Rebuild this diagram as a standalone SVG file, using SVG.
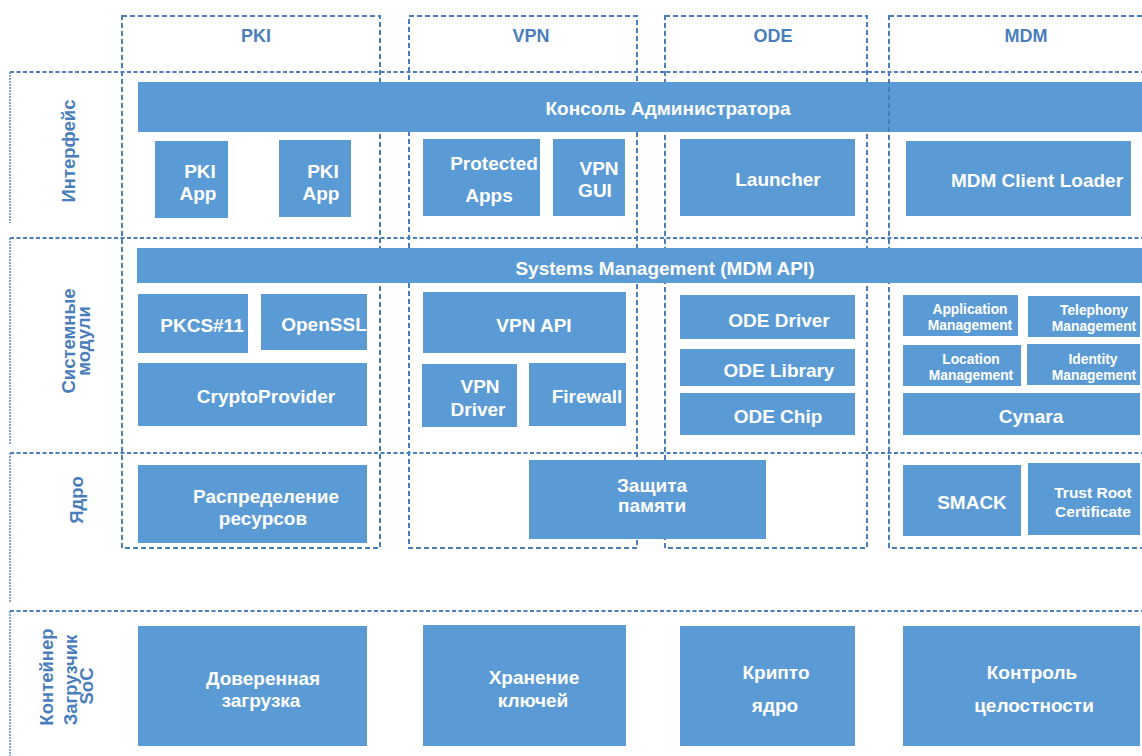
<svg xmlns="http://www.w3.org/2000/svg" width="1142" height="756" viewBox="0 0 1142 756">
  <style>
    .box { fill: #5B9BD5; }
    .t { font-family: "Liberation Sans", Arial, sans-serif; font-weight: bold; fill: #FFFFFF; text-anchor: middle; font-size: 19px; }
    .ts { font-size: 13.8px; }
    .tm { font-size: 15.5px; }
    .hdr { font-family: "Liberation Sans", Arial, sans-serif; font-weight: bold; fill: #4A7EBB; text-anchor: middle; font-size: 18px; }
    .vl { font-size: 18.5px; }
    .col { fill: none; stroke: #4A7EBB; stroke-width: 2; stroke-dasharray: 5 3; }
    .row { fill: none; stroke: #4A7EBB; stroke-width: 2; stroke-dasharray: 4 2.5; }
    .rowside { fill: none; stroke: #5A8AC6; stroke-width: 1.5; stroke-dasharray: 2 1; }
  </style>
  <rect width="1142" height="756" fill="#FFFFFF"/>

  <!-- layer rows: top edge and left edge -->
  <g id="rows">
    <g id="row-interface">
      <path class="row" d="M10,72 H1142"/>
      <path class="rowside" d="M10,72 V223"/>
      <text class="hdr vl" transform="translate(75,151) rotate(-90)">Интерфейс</text>
    </g>
    <g id="row-modules">
      <path class="row" d="M10,238 H1142"/>
      <path class="rowside" d="M10,238 V445"/>
      <text class="hdr vl" transform="translate(75,341) rotate(-90)">Системные</text>
      <text class="hdr vl" transform="translate(90,341) rotate(-90)">модули</text>
    </g>
    <g id="row-kernel">
      <path class="row" d="M10,453 H1142"/>
      <path class="rowside" d="M10,453 V603"/>
      <text class="hdr vl" transform="translate(83,500) rotate(-90)">Ядро</text>
    </g>
    <g id="row-container">
      <path class="row" d="M10,611 H1142"/>
      <path class="rowside" d="M10,611 V756"/>
      <text class="hdr vl" transform="translate(53,677) rotate(-90)">Контейнер</text>
      <text class="hdr vl" transform="translate(77,680) rotate(-90)">Загрузчик</text>
      <text class="hdr vl" transform="translate(93,686) rotate(-90)">SoC</text>
    </g>
  </g>

  <!-- product columns -->
  <g id="columns">
    <g id="col-pki">
      <rect class="col" x="122" y="16" width="258" height="532"/>
      <text class="hdr" x="256" y="42">PKI</text>
    </g>
    <g id="col-vpn">
      <rect class="col" x="409" y="16" width="228" height="532"/>
      <text class="hdr" x="531" y="42">VPN</text>
    </g>
    <g id="col-ode">
      <rect class="col" x="665" y="16" width="202" height="532"/>
      <text class="hdr" x="773" y="42">ODE</text>
    </g>
  </g>

  <g id="admin-console">
    <rect class="box" x="138" y="82" width="1004" height="50"/>
    <text class="t" x="668" y="115">Консоль Администратора</text>
  </g>

  <g id="col-mdm">
    <rect class="col" x="889" y="16" width="270" height="532"/>
    <text class="hdr" x="1026" y="42">MDM</text>
  </g>

  <!-- interface layer -->
  <g id="pki-app-1">
    <rect class="box" x="155" y="141" width="73" height="77"/>
    <text class="t" x="200" y="178">PKI</text>
    <text class="t" x="198" y="200">App</text>
  </g>
  <g id="pki-app-2">
    <rect class="box" x="279" y="140" width="72" height="77"/>
    <text class="t" x="323" y="178">PKI</text>
    <text class="t" x="321" y="200">App</text>
  </g>
  <g id="protected-apps">
    <rect class="box" x="423" y="139" width="117" height="77"/>
    <text class="t" x="494" y="170">Protected</text>
    <text class="t" x="489" y="202">Apps</text>
  </g>
  <g id="vpn-gui">
    <rect class="box" x="553" y="139" width="72" height="77"/>
    <text class="t" x="599" y="175">VPN</text>
    <text class="t" x="595" y="197">GUI</text>
  </g>
  <g id="launcher">
    <rect class="box" x="680" y="139" width="175" height="77"/>
    <text class="t" x="778" y="186">Launcher</text>
  </g>
  <g id="mdm-client-loader">
    <rect class="box" x="906" y="141" width="225" height="75"/>
    <text class="t" x="1037" y="187">MDM Client Loader</text>
  </g>

  <!-- system modules layer -->
  <g id="systems-management">
    <rect class="box" x="137" y="248" width="1005" height="35"/>
    <text class="t" x="665" y="275">Systems Management (MDM API)</text>
  </g>
  <g id="pkcs11">
    <rect class="box" x="138" y="294" width="110" height="59"/>
    <text class="t" x="202" y="332">PKCS#11</text>
  </g>
  <g id="openssl">
    <rect class="box" x="261" y="294" width="106" height="56"/>
    <text class="t" x="324" y="331">OpenSSL</text>
  </g>
  <g id="cryptoprovider">
    <rect class="box" x="138" y="363" width="229" height="63"/>
    <text class="t" x="266" y="403">CryptoProvider</text>
  </g>
  <g id="vpn-api">
    <rect class="box" x="423" y="292" width="203" height="61"/>
    <text class="t" x="534" y="332">VPN API</text>
  </g>
  <g id="vpn-driver">
    <rect class="box" x="422" y="364" width="95" height="63"/>
    <text class="t" x="480" y="393">VPN</text>
    <text class="t" x="478" y="416">Driver</text>
  </g>
  <g id="firewall">
    <rect class="box" x="529" y="363" width="97" height="63"/>
    <text class="t" x="587" y="403">Firewall</text>
  </g>
  <g id="ode-driver">
    <rect class="box" x="680" y="295" width="175" height="44"/>
    <text class="t" x="779" y="327">ODE Driver</text>
  </g>
  <g id="ode-library">
    <rect class="box" x="680" y="349" width="175" height="37"/>
    <text class="t" x="779" y="377">ODE Library</text>
  </g>
  <g id="ode-chip">
    <rect class="box" x="680" y="393" width="175" height="42"/>
    <text class="t" x="778" y="423">ODE Chip</text>
  </g>
  <g id="application-management">
    <rect class="box" x="903" y="295" width="115" height="41"/>
    <text class="t ts" x="970" y="314">Application</text>
    <text class="t ts" x="970" y="330">Management</text>
  </g>
  <g id="telephony-management">
    <rect class="box" x="1028" y="296" width="112" height="41"/>
    <text class="t ts" x="1094" y="315">Telephony</text>
    <text class="t ts" x="1094" y="331">Management</text>
  </g>
  <g id="location-management">
    <rect class="box" x="903" y="345" width="118" height="41"/>
    <text class="t ts" x="971" y="364">Location</text>
    <text class="t ts" x="971" y="380">Management</text>
  </g>
  <g id="identity-management">
    <rect class="box" x="1027" y="344" width="113" height="41"/>
    <text class="t ts" x="1093" y="364">Identity</text>
    <text class="t ts" x="1094" y="380">Management</text>
  </g>
  <g id="cynara">
    <rect class="box" x="903" y="393" width="237" height="42"/>
    <text class="t" x="1031" y="423">Cynara</text>
  </g>

  <!-- kernel layer -->
  <g id="resource-allocation">
    <rect class="box" x="138" y="465" width="229" height="78"/>
    <text class="t" x="266" y="503">Распределение</text>
    <text class="t" x="263" y="525">ресурсов</text>
  </g>
  <g id="memory-protection">
    <rect class="box" x="529" y="460" width="237" height="79"/>
    <text class="t" x="652" y="492">Защита</text>
    <text class="t" x="652" y="512">памяти</text>
  </g>
  <g id="smack">
    <rect class="box" x="903" y="465" width="118" height="71"/>
    <text class="t" x="972" y="509">SMACK</text>
  </g>
  <g id="trust-root-certificate">
    <rect class="box" x="1028" y="463" width="112" height="72"/>
    <text class="t tm" x="1093" y="498">Trust Root</text>
    <text class="t tm" x="1093" y="517">Certificate</text>
  </g>

  <!-- SoC bootloader container layer -->
  <g id="trusted-boot">
    <rect class="box" x="138" y="626" width="229" height="120"/>
    <text class="t" x="263" y="685">Доверенная</text>
    <text class="t" x="261" y="707">загрузка</text>
  </g>
  <g id="key-storage">
    <rect class="box" x="423" y="625" width="203" height="121"/>
    <text class="t" x="534" y="684">Хранение</text>
    <text class="t" x="533" y="707">ключей</text>
  </g>
  <g id="crypto-core">
    <rect class="box" x="680" y="626" width="175" height="120"/>
    <text class="t" x="776" y="679">Крипто</text>
    <text class="t" x="775" y="712">ядро</text>
  </g>
  <g id="integrity-control">
    <rect class="box" x="903" y="626" width="237" height="120"/>
    <text class="t" x="1032" y="679">Контроль</text>
    <text class="t" x="1034" y="712">целостности</text>
  </g>

  <!-- no connectors in this layered diagram -->
  <g id="connectors"/>
</svg>
